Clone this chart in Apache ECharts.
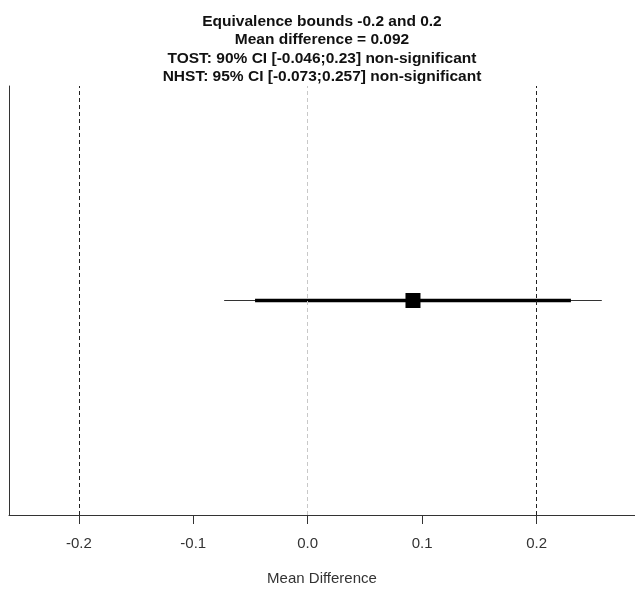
<!DOCTYPE html>
<html>
<head>
<meta charset="utf-8">
<script src="https://cdn.jsdelivr.net/npm/echarts@6/dist/echarts.min.js"></script>
<style>
html,body{margin:0;padding:0;background:#fff;}
#main{width:635px;height:591px;}
</style>
</head>
<body>
<div id="main"></div>
<script>
var titleLines = ['Equivalence bounds -0.2 and 0.2',
	'Mean difference = 0.092',
	'TOST: 90% CI [-0.046;0.23] non-significant',
	'NHST: 95% CI [-0.073;0.257] non-significant'];
var bounds = [-0.2, 0.2];
var meanDiff = 0.092;
var ci90 = [-0.046, 0.23];
var ci95 = [-0.073, 0.257];
var tickValues = [-0.2, -0.1, 0.0, 0.1, 0.2];
var xRange = [-0.261, 0.286];
var yPos = 1;

var chart = echarts.init(document.getElementById('main'));
var option = {
	backgroundColor: '#fff',
	animation: false,
	textStyle: {fontFamily: 'Liberation Sans, Arial, sans-serif'},
	title: {
		text: titleLines.join('\n'),
		left: 322,
		top: 12,
		padding: 0,
		textAlign: 'center',
		textStyle: {
			fontSize: 15.5,
			fontWeight: 'bold',
			lineHeight: 18.5,
			color: '#111',
			fontFamily: 'Liberation Sans, Arial, sans-serif'
		}
	},
	grid: {left: 9, right: 0, top: 86, bottom: 73},
	xAxis: {
		type: 'value',
		min: xRange[0],
		max: xRange[1],
		name: 'Mean Difference',
		nameLocation: 'middle',
		nameGap: 56,
		nameTextStyle: {fontSize: 15, color: '#333'},
		axisLine: {show: true, onZero: false, lineStyle: {color: '#333', width: 1}},
		axisTick: {show: true, length: 9, customValues: tickValues, lineStyle: {color: '#333'}},
		axisLabel: {
			customValues: tickValues,
			margin: 21,
			fontSize: 15,
			color: '#333',
			formatter: function (v) { return v.toFixed(1); }
		},
		splitLine: {show: false}
	},
	yAxis: {
		type: 'value',
		min: 0,
		max: 2 * yPos,
		axisLine: {show: true, onZero: false, lineStyle: {color: '#333', width: 1}},
		axisTick: {show: false},
		axisLabel: {show: false},
		splitLine: {show: false}
	},
	series: [
		{
			name: 'NHST 95% CI',
			type: 'line',
			data: [[ci95[0], yPos], [ci95[1], yPos]],
			symbol: 'none',
			lineStyle: {color: '#333', width: 1},
			markLine: {
				silent: true,
				symbol: ['none', 'none'],
				label: {show: false},
				data: [
					{xAxis: bounds[0], lineStyle: {color: '#222', width: 1, type: [4, 3]}},
					{xAxis: bounds[1], lineStyle: {color: '#222', width: 1, type: [4, 3]}},
					{xAxis: 0, lineStyle: {color: '#c8c8c8', width: 1, type: [4, 3]}}
				]
			}
		},
		{
			name: 'TOST 90% CI',
			type: 'line',
			data: [[ci90[0], yPos], [ci90[1], yPos]],
			symbol: 'none',
			lineStyle: {color: '#000', width: 3.5}
		},
		{
			name: 'Mean difference',
			type: 'scatter',
			data: [[meanDiff, yPos]],
			symbol: 'rect',
			symbolSize: 15,
			itemStyle: {color: '#000', opacity: 1}
		}
	]
};
chart.setOption(option);
</script>
</body>
</html>
